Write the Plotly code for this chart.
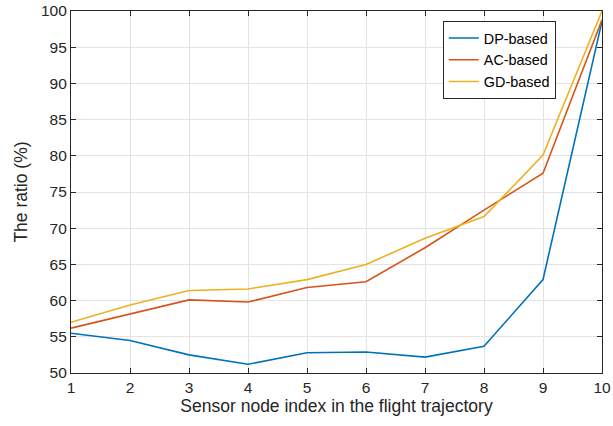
import plotly.graph_objects as go

# Sensor node index along the flight trajectory
node_index = [1, 2, 3, 4, 5, 6, 7, 8, 9, 10]

# Ratio (%) for each scheme
dp_based = [55.5, 54.5, 52.5, 51.2, 52.8, 52.9, 52.2, 53.7, 62.9, 98.6]
ac_based = [56.2, 58.1, 60.1, 59.8, 61.8, 62.6, 67.3, 72.5, 77.6, 98.8]
gd_based = [57.0, 59.4, 61.4, 61.6, 62.9, 65.0, 68.6, 71.6, 80.1, 100.0]

series = [
    ("DP-based", dp_based, "#0072BD"),
    ("AC-based", ac_based, "#D95319"),
    ("GD-based", gd_based, "#EDB120"),
]

FONT = "Liberation Sans, Arial, sans-serif"

fig = go.Figure()
for name, vals, color in series:
    fig.add_trace(go.Scatter(
        x=node_index, y=vals, name=name, mode="lines",
        line=dict(color=color, width=1.6),
    ))

axis_common = dict(
    showgrid=True, gridcolor="#E3E3E3", gridwidth=1,
    showline=True, linecolor="#262626", linewidth=1.2,
    mirror="ticks", ticks="inside", ticklen=5, tickcolor="#262626",
    zeroline=False, automargin=False,
    tickfont=dict(family=FONT, size=15.5, color="#262626"),
)

fig.update_xaxes(
    range=[1, 10], tickmode="array", tickvals=node_index,
    title=dict(text="Sensor node index in the flight trajectory",
               font=dict(family=FONT, size=17.5, color="#262626"),
               standoff=4),
    **axis_common,
)
fig.update_yaxes(
    range=[50, 100], tickmode="array", tickvals=list(range(50, 101, 5)),
    title=dict(text="The ratio (%)",
               font=dict(family=FONT, size=17.5, color="#262626"),
               standoff=8),
    **axis_common,
)

fig.update_layout(
    width=613, height=426,
    margin=dict(l=71, r=11, t=11, b=53),
    paper_bgcolor="white", plot_bgcolor="white",
    showlegend=True,
    legend=dict(
        x=0.913, y=0.972, xanchor="right", yanchor="top",
        bgcolor="white", bordercolor="#262626", borderwidth=1,
        font=dict(family=FONT, size=14.4, color="#000000"),
        tracegroupgap=0, itemwidth=30,
    ),
)

fig.write_html("out.html")
